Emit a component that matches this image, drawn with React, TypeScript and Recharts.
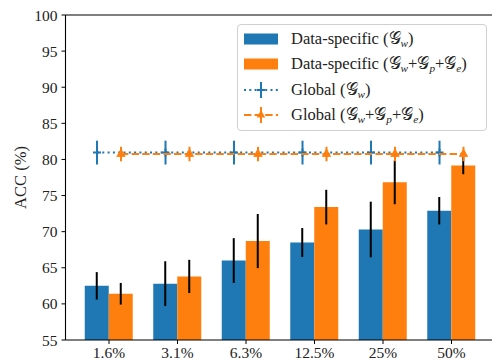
import React from 'react';
import { ComposedChart, Bar, Scatter, XAxis, YAxis, ErrorBar, ReferenceLine, Legend } from 'recharts';

const categories = ['1.6%', '3.1%', '6.3%', '12.5%', '25%', '50%'];
const dataSpecificW = [62.5, 62.8, 66.0, 68.5, 70.3, 72.9];
const dataSpecificWErr = [1.9, 3.1, 3.1, 2.0, 3.85, 1.9];
const dataSpecificAll = [61.4, 63.8, 68.7, 73.4, 76.85, 79.15];
const dataSpecificAllErr = [1.5, 2.3, 3.75, 2.4, 3.05, 1.2];
const globalW = [80.95, 80.95, 80.95, 80.95, 80.95, 80.95];
const globalWErr = [1.65, 1.65, 1.65, 1.65, 1.65, 1.65];
const globalAll = [80.75, 80.75, 80.75, 80.75, 80.75, 80.75];
const globalAllErr = [1.0, 1.0, 1.0, 1.0, 1.0, 1.0];
const yTicks = [55, 60, 65, 70, 75, 80, 85, 90, 95, 100];

const BLUE = '#1f77b4';
const ORANGE = '#ff7f0e';
const FONT = '"Liberation Serif", "DejaVu Serif", serif';
const BAR_OFFSET = 0.175; // half of bar width in category units

const barData = categories.map((c, i) => ({
  cat: c,
  dsW: dataSpecificW[i],
  dsWErr: dataSpecificWErr[i],
  dsAll: dataSpecificAll[i],
  dsAllErr: dataSpecificAllErr[i],
}));
const globalWData = categories.map((c, i) => ({ x: i - BAR_OFFSET, y: globalW[i], err: globalWErr[i] }));
const globalAllData = categories.map((c, i) => ({ x: i + BAR_OFFSET, y: globalAll[i], err: globalAllErr[i] }));

const PlusShape = (props: any) => {
  const { cx, cy } = props;
  return (
    <path d={`M${cx - 4},${cy}H${cx + 4}M${cx},${cy - 4}V${cy + 4}`} stroke={BLUE} strokeWidth={2} fill="none" />
  );
};
const TriShape = (props: any) => {
  const { cx, cy } = props;
  return <path d={`M${cx},${cy - 5}L${cx + 4.2},${cy + 2.5}L${cx - 4.2},${cy + 2.5}Z`} fill={ORANGE} stroke={ORANGE} strokeWidth={0.8} />;
};

const G = () => <span>𝒢</span>;
const Sub = ({ t }: { t: string }) => (
  <sub style={{ fontSize: '0.68em', fontStyle: 'italic', verticalAlign: '-0.3em', lineHeight: 0 }}>{t}</sub>
);
const MathW = () => (<span>(<G /><Sub t="w" />)</span>);
const MathAll = () => (
  <span>(<G /><Sub t="w" />+<G /><Sub t="p" />+<G /><Sub t="e" />)</span>
);

const legendItems = [
  { kind: 'bar', color: BLUE, prefix: 'Data-specific ', math: 'w' },
  { kind: 'bar', color: ORANGE, prefix: 'Data-specific ', math: 'all' },
  { kind: 'dot', color: BLUE, prefix: 'Global ', math: 'w' },
  { kind: 'dash', color: ORANGE, prefix: 'Global ', math: 'all' },
];

const Handle = ({ kind, color }: { kind: string; color: string }) => {
  if (kind === 'bar') {
    return (
      <svg width={34} height={20} style={{ display: 'block' }}>
        <rect x={0} y={4.5} width={34} height={11} fill={color} />
      </svg>
    );
  }
  const dash = kind === 'dot' ? '2 3.3' : '7.4 3.2';
  return (
    <svg width={34} height={20} style={{ display: 'block' }}>
      <line x1={0} x2={34} y1={10} y2={10} stroke={color} strokeWidth={2} strokeDasharray={dash} />
      <line x1={17} x2={17} y1={2} y2={18} stroke={color} strokeWidth={2} />
      {kind === 'dot' ? (
        <path d="M13,10H21" stroke={color} strokeWidth={2} />
      ) : (
        <path d="M17,5L21.2,12.5L12.8,12.5Z" fill={color} />
      )}
    </svg>
  );
};

const LegendContent = () => (
  <div
    style={{
      boxSizing: 'border-box',
      width: 250,
      height: 107,
      border: '1px solid #d0d0d0',
      borderRadius: 4,
      background: 'rgba(255,255,255,0.85)',
      padding: '1.5px 0 0 6px',
      fontFamily: FONT,
      fontSize: 16.5,
      color: '#222',
    }}
  >
    {legendItems.map((it, k) => (
      <div key={k} style={{ display: 'flex', alignItems: 'center', height: 25.3 }}>
        <Handle kind={it.kind} color={it.color} />
        <span style={{ marginLeft: 13, whiteSpace: 'nowrap' }}>
          {it.prefix}
          {it.math === 'w' ? <MathW /> : <MathAll />}
        </span>
      </div>
    ))}
  </div>
);

const YLabel = (props: any) => {
  const vb = props.viewBox || { x: 0, y: 0, width: 0, height: 0 };
  const x = vb.x + 20;
  const y = vb.y + vb.height / 2;
  return (
    <text x={x} y={y} transform={`rotate(-90 ${x} ${y})`} textAnchor="middle" dominantBaseline="central" fontFamily={FONT} fontSize={16.5} fill="#222">
      ACC (%)
    </text>
  );
};

export default function App() {
  return (
    <div style={{ position: 'absolute', left: 0, top: 0, width: 492, height: 363, overflow: 'hidden', background: '#fff' }}>
      <ComposedChart
        width={500}
        height={363}
        data={barData}
        margin={{ top: 15, right: 5, bottom: 0, left: 0 }}
        barGap={0}
        barSize={24}
      >
        <XAxis
          dataKey="cat"
          xAxisId="cat"
          type="category"
          height={23}
          padding={{ left: 9.25, right: 9.25 }}
          tickSize={4}
          tickMargin={3}
          axisLine={{ stroke: '#000', strokeWidth: 1.1 }}
          tickLine={{ stroke: '#000', strokeWidth: 1 }}
          tick={{ fill: '#222', fontFamily: FONT, fontSize: 15.5 }}
          interval={0}
        />
        <XAxis xAxisId="num" dataKey="x" type="number" domain={[-0.635, 5.635]} allowDataOverflow hide />
        <YAxis
          yAxisId="y"
          type="number"
          domain={[55, 100]}
          ticks={yTicks}
          allowDataOverflow
          width={65.5}
          tickSize={4}
          tickMargin={4}
          axisLine={{ stroke: '#000', strokeWidth: 1.1 }}
          tickLine={{ stroke: '#000', strokeWidth: 1 }}
          tick={{ fill: '#222', fontFamily: FONT, fontSize: 15.5 }}
          label={<YLabel />}
        />
        <ReferenceLine y={100} yAxisId="y" xAxisId="cat" stroke="#000" strokeWidth={1.1} ifOverflow="visible" />
        <Bar dataKey="dsW" xAxisId="cat" yAxisId="y" fill={BLUE} isAnimationActive={false}>
          <ErrorBar dataKey="dsWErr" width={0} stroke="#000" strokeWidth={2} direction="y" />
        </Bar>
        <Bar dataKey="dsAll" xAxisId="cat" yAxisId="y" fill={ORANGE} isAnimationActive={false}>
          <ErrorBar dataKey="dsAllErr" width={0} stroke="#000" strokeWidth={2} direction="y" />
        </Bar>
        <Scatter
          data={globalWData}
          dataKey="y"
          xAxisId="num"
          yAxisId="y"
          fill={BLUE}
          shape={<PlusShape />}
          line={{ stroke: BLUE, strokeWidth: 2, strokeDasharray: '2 3.3' }}
          lineType="joint"
          isAnimationActive={false}
        >
          <ErrorBar dataKey="err" width={0} stroke={BLUE} strokeWidth={2} direction="y" />
        </Scatter>
        <Scatter
          data={globalAllData}
          dataKey="y"
          xAxisId="num"
          yAxisId="y"
          fill={ORANGE}
          shape={<TriShape />}
          line={{ stroke: ORANGE, strokeWidth: 2, strokeDasharray: '7.4 3.2' }}
          lineType="joint"
          isAnimationActive={false}
        >
          <ErrorBar dataKey="err" width={0} stroke={ORANGE} strokeWidth={2} direction="y" />
        </Scatter>
        <Legend
          layout="vertical"
          align="center"
          verticalAlign="middle"
          wrapperStyle={{ left: 237, top: 24, width: 250, height: 107 }}
          content={<LegendContent />}
        />
      </ComposedChart>
    </div>
  );
}
